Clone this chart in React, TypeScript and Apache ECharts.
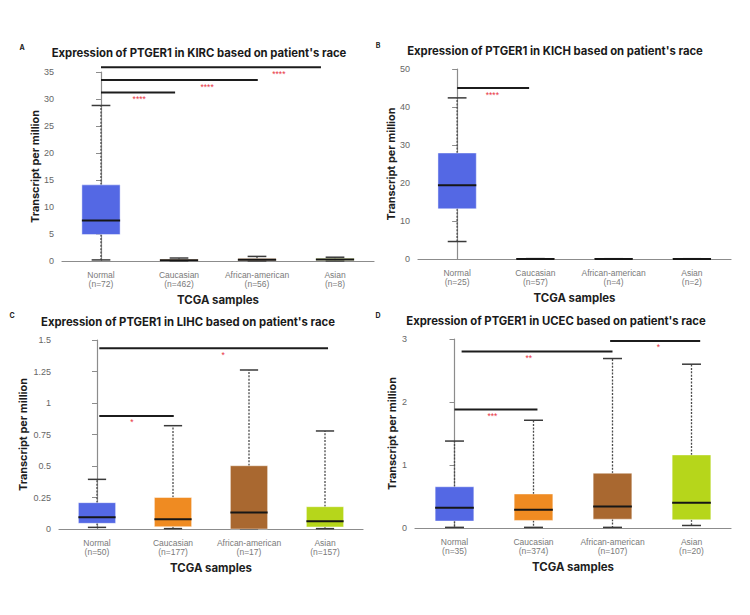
import React, { useEffect, useRef } from "react";
import * as echarts from "echarts";

const FONT = "'Liberation Sans', Arial, Helvetica, sans-serif";
const BOLD_FONT = "Inter, 'Liberation Sans', Arial, sans-serif";

const races = ["Normal", "Caucasian", "African-american", "Asian"];
const letters = ["A", "B", "C", "D"];
const titles = [
  "Expression of PTGER1 in KIRC based on patient's race",
  "Expression of PTGER1 in KICH based on patient's race",
  "Expression of PTGER1 in LIHC based on patient's race",
  "Expression of PTGER1 in UCEC based on patient's race",
];

// box statistics per race: [min, Q1, median, Q3, max] (TPM)
const kircCounts = [72, 462, 56, 8];
const kircStats = [
  [0.2, 4.9, 7.5, 14.1, 28.8],
  [0.02, 0.05, 0.12, 0.3, 0.55],
  [0.02, 0.1, 0.25, 0.45, 0.85],
  [0.02, 0.12, 0.3, 0.45, 0.7],
];

const kichCounts = [25, 57, 4, 2];
const kichStats = [
  [4.6, 13.2, 19.4, 27.9, 42.4],
  [0, 0, 0.03, 0.06, 0.1],
  [0, 0, 0.02, 0.05, 0.08],
  [0, 0, 0.02, 0.05, 0.08],
];

const lihcCounts = [50, 177, 17, 157];
const lihcStats = [
  [0.013, 0.045, 0.093, 0.209, 0.394],
  [0.003, 0.018, 0.077, 0.25, 0.82],
  [0, 0, 0.13, 0.502, 1.262],
  [0.003, 0.016, 0.061, 0.177, 0.778],
];

const ucecCounts = [35, 374, 107, 20];
const ucecStats = [
  [0.01, 0.11, 0.32, 0.655, 1.38],
  [0.01, 0.12, 0.29, 0.54, 1.71],
  [0.01, 0.14, 0.34, 0.87, 2.69],
  [0.04, 0.13, 0.4, 1.16, 2.6],
];

// significance brackets: [from, to, y, starX] in category-index / TPM units
const kircBrackets = [
  [0, 0.95, 31.2, 0.49],
  [0, 2.01, 33.5, 1.36],
  [0, 2.82, 35.9, 2.28],
];
const kircStars = ["****", "****", "****"];

const kichBrackets = [[0, 0.92, 45.0, 0.45]];
const kichStars = ["****"];

const lihcBrackets = [
  [0.03, 1.01, 0.897, 0.46],
  [0.03, 3.04, 1.434, 1.66],
];
const lihcStars = ["*", "*"];

const ucecBrackets = [
  [0, 1.05, 1.88, 0.48],
  [0.09, 2.0, 2.8, 0.94],
  [1.97, 3.11, 2.97, 2.58],
];
const ucecStars = ["***", "**", "*"];

const yMax = [35, 50, 1.5, 3];
const yInterval = [5, 10, 0.25, 1];

const boxColors = ["#5468e4", "#ef8b22", "#a96830", "#b6d61b"];

const panelData = [
  { counts: kircCounts, stats: kircStats, brackets: kircBrackets, stars: kircStars },
  { counts: kichCounts, stats: kichStats, brackets: kichBrackets, stars: kichStars },
  { counts: lihcCounts, stats: lihcStats, brackets: lihcBrackets, stars: lihcStars },
  { counts: ucecCounts, stats: ucecStats, brackets: ucecBrackets, stars: ucecStars },
];

const layouts = [
  { left: 62, top: 72, width: 312, height: 189, yGap: 20, tx: 199, ty: 53, lx: 22, ly: 47 },
  { left: 418, top: 69, width: 313, height: 190, yGap: 22, tx: 555, ty: 51, lx: 378, ly: 45 },
  { left: 59, top: 340, width: 304, height: 189, yGap: 31, tx: 188, ty: 322, lx: 12, ly: 315 },
  { left: 415, top: 339, width: 316, height: 189, yGap: 18, tx: 556, ty: 321, lx: 378, ly: 315 },
];

function renderBox(params: any, api: any) {
  const i = params.dataIndex;
  const idx = api.value(0);
  const lo = api.value(1);
  const q1 = api.value(2);
  const med = api.value(3);
  const q3 = api.value(4);
  const hi = api.value(5);
  const pLo = api.coord([idx, lo]);
  const x = pLo[0];
  const yLo = pLo[1];
  const yQ1 = api.coord([idx, q1])[1];
  const yMed = api.coord([idx, med])[1];
  const yQ3 = api.coord([idx, q3])[1];
  const yHi = api.coord([idx, hi])[1];
  const band = api.size([1, 0])[0];
  const half = band * 0.245;
  const cap = band * 0.12;
  const whisker = { stroke: "#4a4a4a", lineWidth: 1.3, lineDash: [2, 1.4] };
  const capStyle = { stroke: "#3a3a3a", lineWidth: 1.5 };
  return {
    type: "group",
    children: [
      { type: "line", shape: { x1: x, y1: yQ3, x2: x, y2: yHi }, style: whisker },
      { type: "line", shape: { x1: x, y1: yQ1, x2: x, y2: yLo }, style: whisker },
      { type: "line", shape: { x1: x - cap, y1: yHi, x2: x + cap, y2: yHi }, style: capStyle },
      { type: "line", shape: { x1: x - cap, y1: yLo, x2: x + cap, y2: yLo }, style: capStyle },
      {
        type: "rect",
        shape: { x: x - half, y: yQ3, width: half * 2, height: Math.max(yQ1 - yQ3, 0.5) },
        style: { fill: boxColors[i], stroke: "rgba(255,255,255,0.45)", lineWidth: 1 },
      },
      {
        type: "line",
        shape: { x1: x - half, y1: yMed, x2: x + half, y2: yMed },
        style: { stroke: "#161616", lineWidth: 2 },
      },
    ],
  };
}

function makeBracketRenderer(stars: string[]) {
  return (params: any, api: any) => {
    const y = api.value(2);
    const p1 = api.coord([api.value(0), y]);
    const p2 = api.coord([api.value(1), y]);
    const ps = api.coord([api.value(3), y]);
    return {
      type: "group",
      children: [
        {
          type: "line",
          shape: { x1: p1[0], y1: p1[1], x2: p2[0], y2: p2[1] },
          style: { stroke: "#1c1c1c", lineWidth: 2 },
        },
        {
          type: "text",
          x: ps[0],
          y: ps[1] + 6.5,
          style: {
            text: stars[params.dataIndex],
            fill: "#e8343f",
            font: `8.5px ${FONT}`,
            textAlign: "center",
            textVerticalAlign: "middle",
            align: "center",
            verticalAlign: "middle",
          },
        },
      ],
    };
  };
}

function buildOption() {
  const grid = layouts.map((l) => ({ left: l.left, top: l.top, width: l.width, height: l.height }));

  const catAxes = panelData.map((p, k) => ({
    type: "category",
    gridIndex: k,
    data: races.map((r, i) => `${r}\n(n=${p.counts[i]})`),
    name: "TCGA samples",
    nameLocation: "middle",
    nameGap: 33,
    nameTextStyle: { fontFamily: BOLD_FONT, fontWeight: "bold", fontSize: 11.4, color: "#1e1e1e" },
    axisLine: { lineStyle: { color: "#8c8c8c", width: 1.2 } },
    axisTick: { show: false },
    axisLabel: { interval: 0, color: "#7a7a7a", fontFamily: FONT, fontSize: 8.5, lineHeight: 9.5, margin: 9 },
  }));
  const valAxes = panelData.map((_, k) => ({
    type: "value",
    gridIndex: k,
    min: -0.5,
    max: 3.5,
    show: false,
  }));

  const yAxis = panelData.map((_, k) => ({
    type: "value",
    gridIndex: k,
    min: 0,
    max: yMax[k],
    interval: yInterval[k],
    name: "Transcript per million",
    nameLocation: "middle",
    nameRotate: 90,
    nameGap: layouts[k].yGap,
    nameTextStyle: { fontFamily: BOLD_FONT, fontWeight: "bold", fontSize: 10.9, color: "#1e1e1e" },
    axisLine: { show: true, lineStyle: { color: "#8c8c8c", width: 1.2 } },
    axisTick: { show: true, length: 5, lineStyle: { color: "#8c8c8c" } },
    axisLabel: { color: "#666", fontFamily: FONT, fontSize: 9, margin: 8 },
    splitLine: { show: false },
  }));

  const series: any[] = [];
  panelData.forEach((p, k) => {
    series.push({
      type: "custom",
      xAxisIndex: k,
      yAxisIndex: k,
      renderItem: renderBox,
      encode: { x: 0, y: [1, 2, 3, 4, 5] },
      data: p.stats.map((s, i) => [i, ...s]),
      silent: true,
    });
    series.push({
      type: "custom",
      xAxisIndex: 4 + k,
      yAxisIndex: k,
      renderItem: makeBracketRenderer(p.stars),
      encode: { x: [0, 1, 3], y: 2 },
      data: p.brackets,
      silent: true,
      clip: false,
    });
  });

  const graphic: any[] = [];
  layouts.forEach((l, k) => {
    graphic.push({
      type: "text",
      x: l.tx,
      y: l.ty,
      style: {
        text: titles[k],
        font: `bold 11.3px ${BOLD_FONT}`,
        fill: "#1a1a1a",
        textAlign: "center",
        textVerticalAlign: "middle",
        align: "center",
        verticalAlign: "middle",
      },
    });
    graphic.push({
      type: "text",
      x: l.lx,
      y: l.ly,
      style: {
        text: letters[k],
        font: `bold 7px ${BOLD_FONT}`,
        fill: "#222",
        textAlign: "center",
        textVerticalAlign: "middle",
        align: "center",
        verticalAlign: "middle",
      },
    });
  });

  return {
    animation: false,
    backgroundColor: "#ffffff",
    grid,
    xAxis: [...catAxes, ...valAxes],
    yAxis,
    series,
    graphic,
  };
}

export default function App() {
  const ref = useRef<HTMLDivElement>(null);
  useEffect(() => {
    document.body.style.margin = "0";
    const chart = echarts.init(ref.current as HTMLDivElement, null, { renderer: "svg" });
    chart.setOption(buildOption() as any);
    return () => chart.dispose();
  }, []);
  return <div ref={ref} style={{ width: 750, height: 615 }} />;
}
